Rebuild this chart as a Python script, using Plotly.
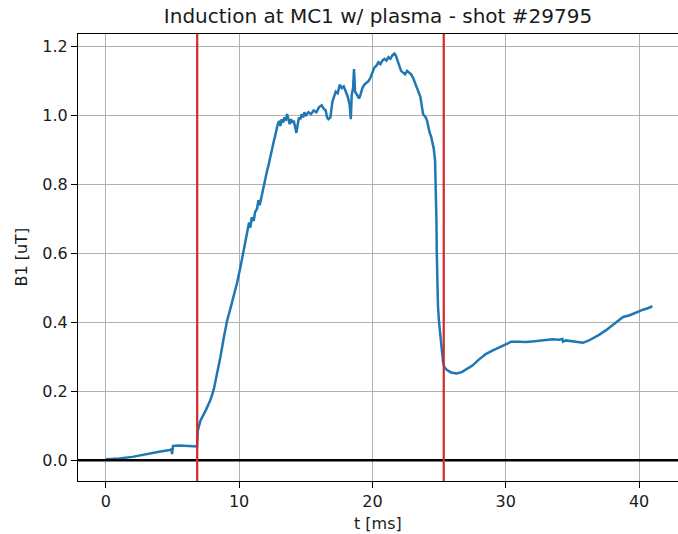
import plotly.graph_objects as go

# ---- data ----
t_ms = [0.0, 1.0, 2.0, 3.0, 4.0, 4.8, 4.95, 4.97, 5.0, 5.05, 5.5, 6.0, 6.5, 6.85,
        6.9, 7.1, 7.5, 7.85, 8.1, 8.35, 8.6, 8.85, 9.1, 9.35, 9.6, 9.85, 10.1, 10.35,
        10.6, 10.75, 10.85, 10.95, 11.1, 11.2, 11.35, 11.45, 11.55, 11.7, 11.8, 11.9,
        12.0, 12.1, 12.2, 12.3, 12.4, 12.5, 12.6, 12.7, 12.8, 12.9, 13.0, 13.1, 13.2,
        13.3, 13.4, 13.5, 13.6, 13.7, 13.8, 13.9, 14.0, 14.1, 14.2, 14.3, 14.4, 14.5,
        14.6, 14.7, 14.8, 14.9, 15.0, 15.2, 15.4, 15.6, 15.8, 16.0, 16.2, 16.35, 16.5,
        16.6, 16.7, 16.85, 17.0, 17.1, 17.25, 17.4, 17.55, 17.7, 17.85, 18.0, 18.15,
        18.3, 18.38, 18.45, 18.55, 18.62, 18.7, 18.85, 19.0, 19.1, 19.25, 19.4, 19.55,
        19.7, 19.85, 20.0, 20.15, 20.3, 20.45, 20.6, 20.75, 20.9, 21.05, 21.2, 21.35,
        21.5, 21.65, 21.75, 21.85, 21.95, 22.05, 22.15, 22.3, 22.45, 22.6, 22.75, 22.9,
        23.05, 23.2, 23.35, 23.5, 23.6, 23.7, 23.8, 23.9, 24.0, 24.1, 24.2, 24.3, 24.4,
        24.5, 24.6, 24.7, 24.76, 24.8, 24.83, 24.86, 24.88, 24.92, 25.0, 25.1, 25.2,
        25.3, 25.4, 25.6, 25.9, 26.3, 26.7, 27.1, 27.5, 28.0, 28.5, 29.0, 29.5, 30.0,
        30.4, 31.0, 31.5, 32.0, 32.5, 33.0, 33.5, 34.0, 34.25, 34.3, 34.5, 35.0, 35.5,
        35.8, 36.2, 36.6, 37.0, 37.5, 38.0, 38.5, 38.8, 39.3, 39.8, 40.3, 40.7, 41.0]

b1_uT = [0.003, 0.005, 0.010, 0.018, 0.025, 0.030, 0.032, 0.018, 0.034, 0.042, 0.043,
         0.042, 0.041, 0.040,
         0.085, 0.115, 0.145, 0.175, 0.205, 0.25, 0.30, 0.355, 0.405, 0.44, 0.475, 0.515,
         0.56, 0.61, 0.655, 0.69, 0.675, 0.705, 0.695, 0.72, 0.73, 0.755, 0.74, 0.77,
         0.79, 0.80, 0.825, 0.84, 0.855, 0.875, 0.89, 0.905, 0.925, 0.94, 0.96, 0.975,
         0.985, 0.97, 0.99, 0.98, 0.995, 0.985, 1.005, 0.985, 0.975, 0.99, 0.98, 0.985,
         0.97, 0.95, 0.975, 0.995, 0.99, 1.005, 0.995, 1.01, 1.0, 1.01, 1.005, 1.015,
         1.01, 1.025, 1.03, 1.02, 1.015, 0.995, 0.99, 0.995, 1.04, 1.055, 1.07, 1.065,
         1.09, 1.08, 1.085, 1.07, 1.055, 1.03, 0.99, 1.06, 1.08, 1.135, 1.07, 1.06,
         1.05, 1.06, 1.08, 1.09, 1.095, 1.1, 1.11, 1.125, 1.14, 1.145, 1.155, 1.15,
         1.16, 1.165, 1.16, 1.17, 1.165, 1.175, 1.18, 1.175, 1.165, 1.155, 1.145, 1.13,
         1.125, 1.12, 1.13, 1.125, 1.12, 1.11, 1.095, 1.085, 1.07, 1.055, 1.03, 1.005,
         1.0, 0.995, 0.985, 0.965, 0.95, 0.94, 0.925, 0.905, 0.87, 0.80, 0.70, 0.60,
         0.50, 0.48, 0.445, 0.40, 0.36, 0.325, 0.285, 0.27, 0.262, 0.255, 0.252, 0.256,
         0.265, 0.275, 0.293, 0.308, 0.318, 0.327, 0.338, 0.344, 0.344, 0.343, 0.345,
         0.346, 0.349, 0.351, 0.350, 0.352, 0.344, 0.348, 0.346, 0.342, 0.341, 0.347,
         0.355, 0.364, 0.377, 0.392, 0.409, 0.416, 0.421, 0.430, 0.437, 0.442, 0.447]

markers_t = [6.86, 25.35]
x_ticks = [0, 10, 20, 30, 40]
y_ticks = [0.0, 0.2, 0.4, 0.6, 0.8, 1.0, 1.2]
y_tick_text = ["0.0", "0.2", "0.4", "0.6", "0.8", "1.0", "1.2"]

FONT = "DejaVu Sans"
TXT = "#1a1a1a"
FS = 16

fig = go.Figure()
fig.add_trace(go.Scatter(x=t_ms, y=b1_uT, mode="lines",
                         line=dict(color="#1f77b4", width=2.5), showlegend=False))

# horizontal zero line
fig.add_hline(y=0, line=dict(color="black", width=2.5), layer="above")
for tv in markers_t:
    fig.add_vline(x=tv, line=dict(color="#d62728", width=2.2), layer="above")

fig.update_layout(
    width=678, height=534,
    margin=dict(l=78, r=0, t=34, b=53),
    paper_bgcolor="white", plot_bgcolor="white",
    font=dict(family=FONT, size=FS, color=TXT),
    title=dict(text="Induction at MC1 w/ plasma - shot #29795",
               x=0.5, xref="paper", xanchor="center",
               y=1 - 16 / 534, yref="container", yanchor="middle",
               font=dict(family=FONT, size=20, color=TXT)),
)
fig.update_xaxes(range=[-2.08, 42.92], tickvals=x_ticks,
                 showgrid=True, gridcolor="#b0b0b0", gridwidth=1,
                 zeroline=False, showline=True, linecolor="black", linewidth=1.2,
                 mirror=True, ticks="outside", ticklen=6, tickcolor="black",
                 tickfont=dict(family=FONT, size=FS, color=TXT))
fig.update_yaxes(range=[-0.06, 1.237], tickvals=y_ticks, ticktext=y_tick_text,
                 showgrid=True, gridcolor="#b0b0b0", gridwidth=1,
                 zeroline=False, showline=True, linecolor="black", linewidth=1.2,
                 mirror=False, ticks="outside", ticklen=6, tickcolor="black",
                 tickfont=dict(family=FONT, size=FS, color=TXT))

fig.add_annotation(text="t [ms]", xref="paper", yref="paper", x=0.5,
                   y=-(523 - 481) / (481 - 34), yanchor="middle", xanchor="center",
                   showarrow=False, font=dict(family=FONT, size=FS, color=TXT))
fig.add_annotation(text="B1 [uT]", xref="paper", yref="paper",
                   x=-(78 - 21) / (678 - 78), xanchor="center",
                   y=0.5, yanchor="middle", textangle=-90,
                   showarrow=False, font=dict(family=FONT, size=FS, color=TXT))

fig.write_html("out.html")
